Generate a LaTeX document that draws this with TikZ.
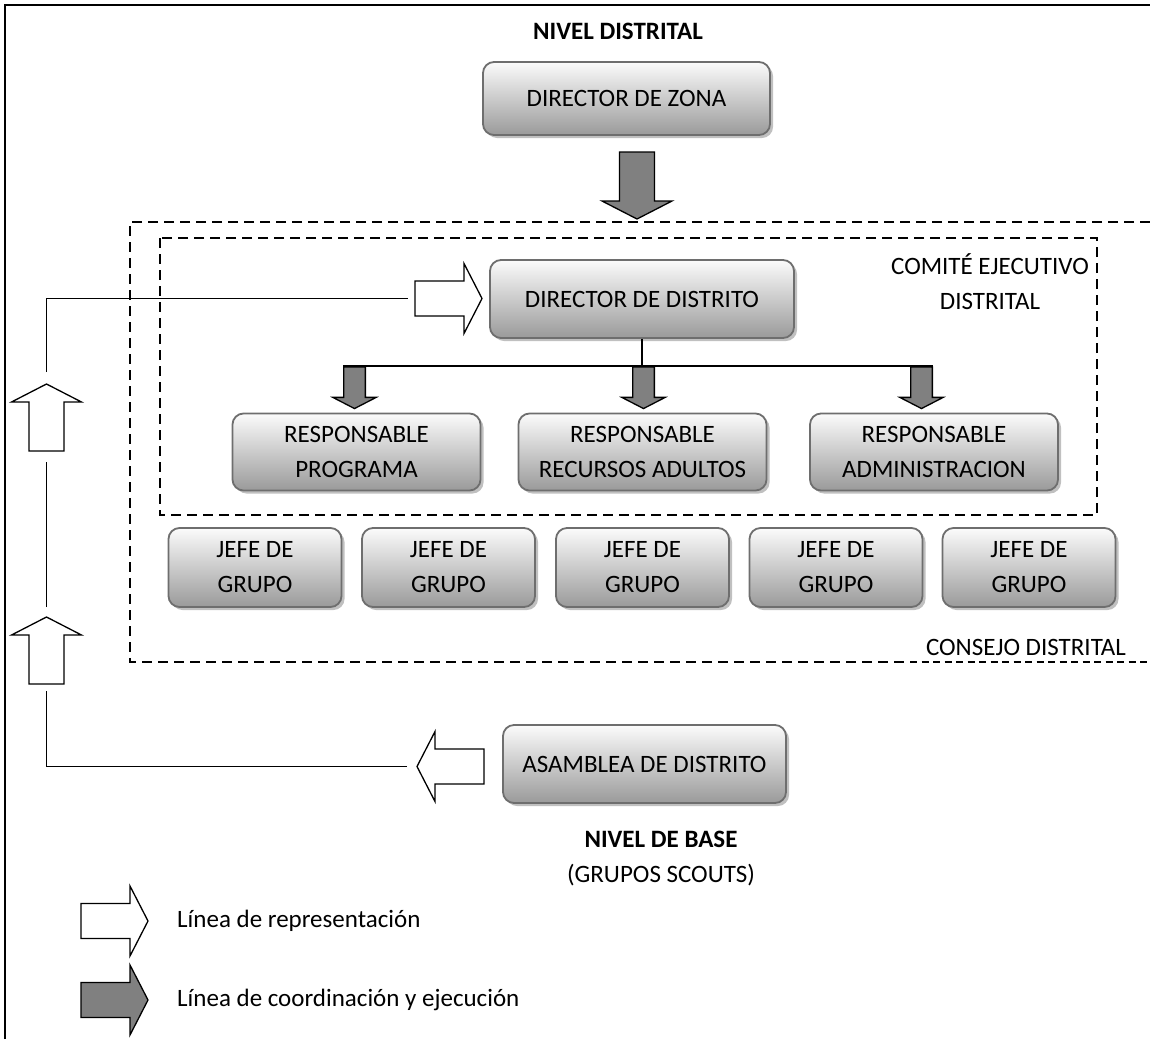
\documentclass[tikz,border=0pt]{standalone}
\usepackage{fontspec}
\setmainfont{Carlito}
\usetikzlibrary{shadows}

\definecolor{boxtop}{HTML}{FBFBFB}
\definecolor{boxbot}{HTML}{9A9A9A}
\definecolor{boxedge}{HTML}{6E6E6E}
\definecolor{arrowgray}{HTML}{808080}
\definecolor{shadowgray}{HTML}{8C8C8C}

\tikzset{
  x=1pt, y=-1pt,
  txt/.style={font=\fontsize{25}{35}\selectfont, align=center, inner sep=0pt},
  orgbox/.style={txt, rounded corners=11pt, draw=boxedge, line width=1.8pt,
    top color=boxtop, bottom color=boxbot,
    drop shadow={shadow xshift=3pt, shadow yshift=-3pt, fill=shadowgray, opacity=0.55}},
  thinline/.style={line width=1.3pt},
  frameline/.style={line width=2pt},
  dashline/.style={line width=1.8pt, dash pattern=on 10pt off 6pt},
  finedash/.style={line width=1.2pt, dash pattern=on 7pt off 4.5pt},
  whitearrow/.style={draw=black, line width=1.3pt, fill=white, line join=miter},
  grayarrow/.style={draw=black, line width=1.3pt, fill=arrowgray, line join=miter},
  pics/blockarrow/.style={code={
    \draw[#1] (0,-17.5) -- (49,-17.5) -- (49,-35) -- (67,0) -- (49,35)
      -- (49,17.5) -- (0,17.5) -- cycle;
    \coordinate (-tail) at (0,0);
    \coordinate (-tip) at (67,0);
  }},
}

\begin{document}
\begin{tikzpicture}
\useasboundingbox (0,0) rectangle (1150,1039);

% page frame
\draw[frameline] (5,1039) -- (5,5) -- (1150,5);

% consejo distrital and comite ejecutivo outlines
\draw[dashline] (1150,222) -- (130,222) -- (130,662) -- (910,662);
\draw[finedash] (910,662) -- (1150,662);
\draw[dashline] (160,238) rectangle (1097,515);

% headings and labels
\node[txt, font=\fontsize{25}{35}\selectfont\bfseries] (nd) at (618,31) {NIVEL DISTRITAL};
\node[txt] (cej) at (990,282) {COMITÉ EJECUTIVO\\DISTRITAL};
\node[txt] (cd) at (1026,647) {CONSEJO DISTRITAL};
\node[txt] (nb) at (661,859) {\textbf{NIVEL DE BASE}\\(GRUPOS SCOUTS)};

% boxes
\node[orgbox, minimum width=287, minimum height=73] (dz) at (626.5,98.5) {DIRECTOR DE ZONA};
\node[orgbox, minimum width=304, minimum height=78] (dd) at (642,299) {DIRECTOR DE DISTRITO};

\node[orgbox, minimum width=248, minimum height=77] (rp) at (356.5,452) {RESPONSABLE\\PROGRAMA};
\node[orgbox, minimum width=248, minimum height=77] (rr) at (642.5,452) {RESPONSABLE\\RECURSOS ADULTOS};
\node[orgbox, minimum width=248, minimum height=77] (ra) at (934,452) {RESPONSABLE\\ADMINISTRACION};

\foreach \cx [count=\i] in {255,448.5,642.5,836,1029}
  \node[orgbox, minimum width=173, minimum height=79] (jg\i) at (\cx,567.5) {JEFE DE\\GRUPO};

\node[orgbox, minimum width=283, minimum height=78] (ad) at (644.5,764) {ASAMBLEA DE DISTRITO};

% coordination arrows
\pic[rotate=-90] (zarr) at (637,152) {blockarrow=grayarrow};

\coordinate (busL) at (343,366);
\coordinate (busR) at (933,366);
\coordinate (busM) at (dd.south |- busL);
\draw[thinline] (dd.south) -- (busM);
\draw[thinline] (busL) -- (busR);
\pic[rotate=-90, scale=0.62] (a1) at (354.5,367) {blockarrow=grayarrow};
\pic[rotate=-90, scale=0.62] (a2) at (643.5,367) {blockarrow=grayarrow};
\pic[rotate=-90, scale=0.62] (a3) at (921.5,367) {blockarrow=grayarrow};

% representation arrows
\pic (rarr) at (415,298.5) {blockarrow=whitearrow};
\pic[rotate=90] (up1) at (46.5,451) {blockarrow=whitearrow};
\pic[rotate=90] (up2) at (46.5,684) {blockarrow=whitearrow};
\pic[rotate=180] (larr) at (484,766.5) {blockarrow=whitearrow};

\draw[thinline, shorten <=12pt, shorten >=7pt] (up1-tip) |- (rarr-tail);
\draw[thinline, shorten <=10pt, shorten >=11pt] (up2-tip) -- (up1-tail);
\draw[thinline, shorten <=10pt, shorten >=7pt] (larr-tip) -| (up2-tail);

% legend
\pic (lg1) at (81,921) {blockarrow=whitearrow};
\pic (lg2) at (81,1000) {blockarrow=grayarrow};
\node[txt, anchor=west] (lt1) at (177,921) {Línea de representación};
\node[txt, anchor=west] (lt2) at (177,1000) {Línea de coordinación y ejecución};

\end{tikzpicture}
\end{document}
